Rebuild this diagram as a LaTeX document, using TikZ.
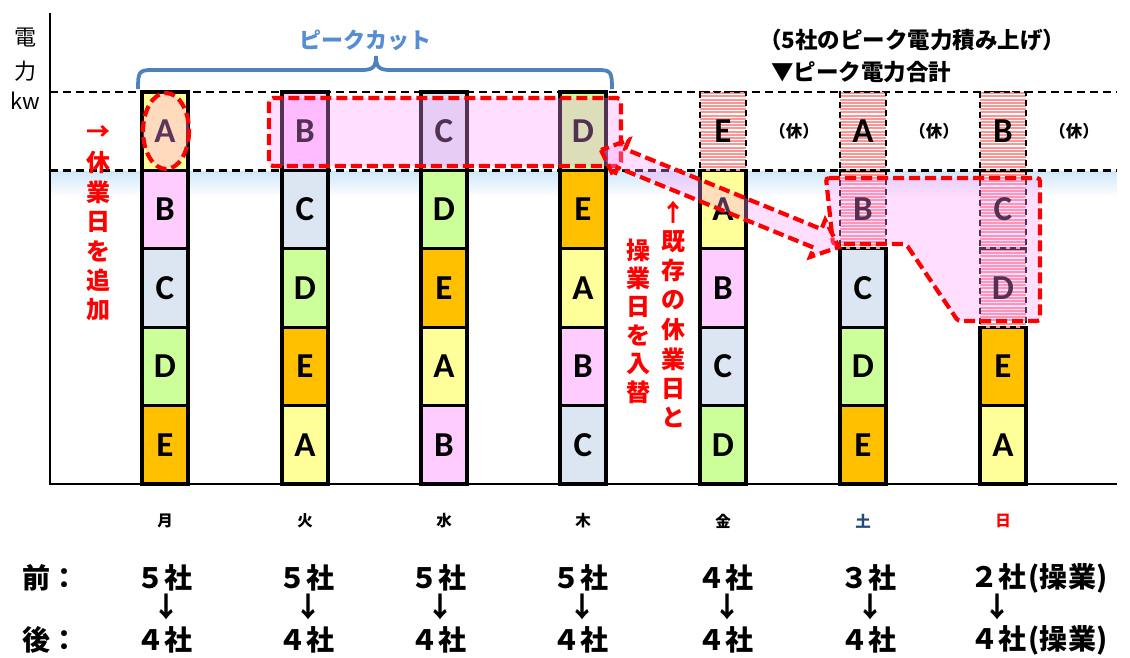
\documentclass[tikz,border=0pt]{standalone}
\usepackage{fontspec}
\newfontfamily\jp{Noto Sans CJK JP}
\newfontfamily\lat{Carlito}
\definecolor{cY}{HTML}{FFFF99}
\definecolor{cP}{HTML}{FFCCFF}
\definecolor{cC}{HTML}{DCE6F2}
\definecolor{cG}{HTML}{CCFF99}
\definecolor{cO}{HTML}{FFC000}
\definecolor{hatchc}{HTML}{FF9494}
\definecolor{ovc}{HTML}{FF99FF}
\definecolor{braceblue}{HTML}{4F81BD}
\definecolor{txtblue}{HTML}{558ED5}
\definecolor{satblue}{HTML}{1F497D}
\definecolor{bandc}{HTML}{CFE7FA}
\newcommand\blkx[5]{\node[blk, fill=#4] (#1) at (#2,#3) {#5};}
\newcommand\hblkx[4]{\node[hblk] (#1) at (#2,#3) {#4};}
\begin{document}
\begin{tikzpicture}[x=1pt,y=-1pt,
  blk/.style={draw=black, line width=3.2pt, minimum width=46pt, minimum height=78.4pt, inner sep=0pt, font=\lat\bfseries\fontsize{35}{35}\selectfont},
  hblk/.style={blk, dash pattern=on 6pt off 4pt, line width=2.8pt, fill=white,
    path picture={\foreach \k in {1.2,4.4,...,80}
      \draw[solid, hatchc, line width=2.1pt] ([yshift=-\k pt]path picture bounding box.north west) -- ([yshift=-\k pt]path picture bounding box.north east);}},
  dline/.style={draw=black, line width=2.4pt, dash pattern=on 8pt off 5pt},
  ovl/.style={draw=red, line width=4.2pt, dash pattern=on 11pt off 5pt, fill=ovc, fill opacity=0.32},
  redtxt/.style={text=red, font=\jp\bfseries\fontsize{24}{24}\selectfont, inner sep=0pt},
  daytxt/.style={font=\jp\bfseries\fontsize{15.5}{15.5}\selectfont, inner sep=0pt},
  bigtxt/.style={font=\jp\bfseries\fontsize{28}{28}\selectfont, inner sep=0pt},
  kyu/.style={font=\jp\bfseries\fontsize{16.5}{16.5}\selectfont, inner sep=0pt}
]
\useasboundingbox (0,0) rectangle (1130,657);
% gradient band
\shade[top color=bandc, bottom color=white] (50,171) rectangle (1117,197);
% dashed reference lines
\draw[dline] (50,92) -- (1117,92);
\draw[dline] (50,170.4) -- (1117,170.4);
% axes
\draw[line width=2.8pt] (50,13) -- (50,484) -- (1117,484);
% axis label
\node[font=\jp\fontsize{22}{22}\selectfont, inner sep=0pt] (yl1) at (25,38) {電};
\node[font=\jp\fontsize{22}{22}\selectfont, inner sep=0pt] (yl2) at (25,71) {力};
\node[font=\jp\fontsize{22}{22}\selectfont, inner sep=0pt] (yl3) at (25,101) {kw};
% blocks: rows r1=444.8 r2=366.4 r3=288 r4=209.6 r5=131.2
% Mon
\blkx{m1}{165}{444.8}{cO}{E}
\blkx{m2}{165}{366.4}{cG}{D}
\blkx{m3}{165}{288}{cC}{C}
\blkx{m4}{165}{209.6}{cP}{B}
\blkx{m5}{165}{131.2}{cY}{A}
% Tue
\blkx{t1}{305}{444.8}{cY}{A}
\blkx{t2}{305}{366.4}{cO}{E}
\blkx{t3}{305}{288}{cG}{D}
\blkx{t4}{305}{209.6}{cC}{C}
\blkx{t5}{305}{131.2}{cP}{B}
% Wed
\blkx{w1}{444}{444.8}{cP}{B}
\blkx{w2}{444}{366.4}{cY}{A}
\blkx{w3}{444}{288}{cO}{E}
\blkx{w4}{444}{209.6}{cG}{D}
\blkx{w5}{444}{131.2}{cC}{C}
% Thu
\blkx{h1}{583}{444.8}{cC}{C}
\blkx{h2}{583}{366.4}{cP}{B}
\blkx{h3}{583}{288}{cY}{A}
\blkx{h4}{583}{209.6}{cO}{E}
\blkx{h5}{583}{131.2}{cG}{D}
% Fri
\blkx{f1}{723}{444.8}{cG}{D}
\blkx{f2}{723}{366.4}{cC}{C}
\blkx{f3}{723}{288}{cP}{B}
\blkx{f4}{723}{209.6}{cY}{A}
\hblkx{f5}{723}{131.2}{E}
% Sat
\blkx{s1}{863}{444.8}{cO}{E}
\blkx{s2}{863}{366.4}{cG}{D}
\blkx{s3}{863}{288}{cC}{C}
\hblkx{s4}{863}{209.6}{B}
\hblkx{s5}{863}{131.2}{A}
% Sun
\blkx{u1}{1003}{444.8}{cY}{A}
\blkx{u2}{1003}{366.4}{cO}{E}
\hblkx{u3}{1003}{288}{D}
\hblkx{u4}{1003}{209.6}{C}
\hblkx{u5}{1003}{131.2}{B}
% overlays
\draw[ovl, rounded corners=4pt] (269,98) rectangle (621,166);
\draw[ovl, rounded corners=3pt] (826,178) -- (1040,178) -- (1040,321) -- (958,321) -- (906,244) -- (833,244) -- cycle;
\draw[ovl, fill opacity=0.36] (166,131) ellipse [x radius=23, y radius=38];
% double block arrow
\begin{scope}[shift={(601,150)}, rotate=-22.2]
\draw[ovl] (0,0) -- (22,20) -- (22,10) -- (234,10) -- (234,20) -- (257,0) -- (234,-20) -- (234,-10) -- (22,-10) -- (22,-20) -- cycle;
\end{scope}
% brace
\draw[braceblue, line width=3.8pt] (138,89) .. controls (138,72) and (139,70) .. (152,70) -- (362,70) .. controls (374,70) and (376,66) .. (376,56) .. controls (376,66) and (378,70) .. (390,70) -- (598,70) .. controls (611,70) and (612,72) .. (612,89);
\node[text=txtblue, font=\jp\bfseries\fontsize{22}{22}\selectfont, inner sep=0pt] (pc) at (365,40) {ピークカット};
% top right legend
\node[anchor=west, font=\jp\bfseries\fontsize{22.5}{22.5}\selectfont, inner sep=0pt] (lg1) at (759,40) {（5社のピーク電力積み上げ）};
\node[anchor=west, font=\jp\bfseries\fontsize{22.5}{22.5}\selectfont, inner sep=0pt] (lg2) at (771,72) {▼ピーク電力合計};
% (休)
\node[kyu] (k1) at (794,131) {（休）};
\node[kyu] (k2) at (934,131) {（休）};
\node[kyu] (k3) at (1074,131) {（休）};
% red vertical texts
\foreach \c [count=\i from 0] in {→,休,業,日,を,追,加}
  \node[redtxt] (la\i) at (98,133+29.5*\i) {\c};
\foreach \c [count=\i from 0] in {↑,既,存,の,休,業,日,と}
  \node[redtxt] (lb\i) at (673,212+29.4*\i) {\c};
\foreach \c [count=\i from 0] in {操,業,日,を,入,替}
  \node[redtxt] (lc\i) at (638,250+28.4*\i) {\c};
% day labels
\node[daytxt] (d1) at (165,521) {月};
\node[daytxt] (d2) at (305,521) {火};
\node[daytxt] (d3) at (444,521) {水};
\node[daytxt] (d4) at (583,521) {木};
\node[daytxt] (d5) at (723,521) {金};
\node[daytxt, text=satblue] (d6) at (863,521) {土};
\node[daytxt, text=red] (d7) at (1003,521) {日};
% before / after
\node[bigtxt, anchor=west] (mae) at (22,578) {前：};
\node[bigtxt, anchor=west] (ato) at (22,640) {後：};
\foreach \x/\a/\b [count=\i] in {164/５/４,306/５/４,438/５/４,580/５/４,725/４/４,868/３/４}{
  \node[bigtxt] (bf\i) at (\x,578) {\a 社};
  \node[bigtxt] (ar\i) at (\x+2,607) {↓};
  \node[bigtxt] (af\i) at (\x,640) {\b 社};
}
\node[bigtxt, anchor=west] (bf7) at (970,578) {２社\kern2pt(操\kern1pt業)};
\node[bigtxt] (ar7) at (997,607) {↓};
\node[bigtxt, anchor=west] (af7) at (970,640) {４社\kern2pt(操\kern1pt業)};
\end{tikzpicture}
\end{document}
